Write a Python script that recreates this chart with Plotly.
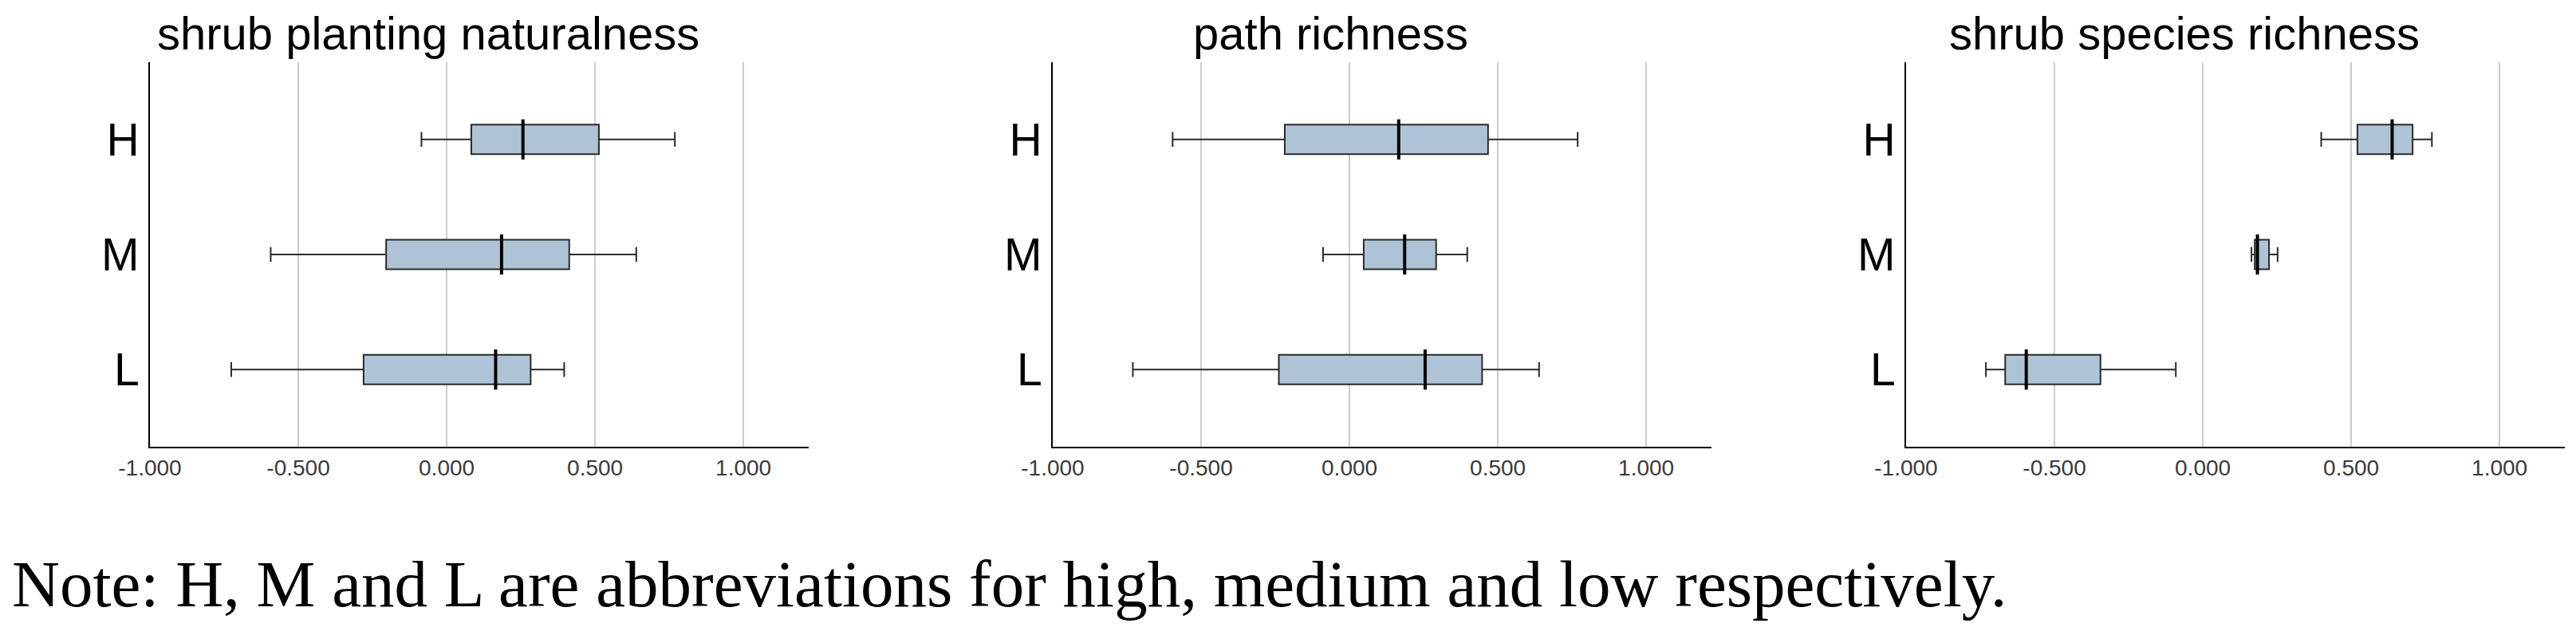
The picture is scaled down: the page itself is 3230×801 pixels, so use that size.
import plotly.graph_objects as go

# categories and panels
levels = ["L", "M", "H"]
titles = ["shrub planting naturalness", "path richness", "shrub species richness"]
x_ticks = [-1.0, -0.5, 0.0, 0.5, 1.0]
x_tick_labels = ["-1.000", "-0.500", "0.000", "0.500", "1.000"]
note = "Note: H, M and L are abbreviations for high, medium and low respectively."

# box stats per panel, ordered L, M, H
naturalness_low = [-0.726, -0.593, -0.085]
naturalness_q1 = [-0.280, -0.204, 0.083]
naturalness_med = [0.165, 0.185, 0.257]
naturalness_q3 = [0.283, 0.413, 0.513]
naturalness_high = [0.396, 0.639, 0.769]

path_low = [-0.730, -0.089, -0.596]
path_q1 = [-0.238, 0.048, -0.218]
path_med = [0.255, 0.186, 0.166]
path_q3 = [0.447, 0.292, 0.467]
path_high = [0.639, 0.397, 0.769]

species_low = [-0.731, 0.164, 0.399]
species_q1 = [-0.666, 0.175, 0.521]
species_med = [-0.595, 0.184, 0.638]
species_q3 = [-0.345, 0.223, 0.707]
species_high = [-0.091, 0.252, 0.772]

panels = [
    (naturalness_low, naturalness_q1, naturalness_med, naturalness_q3, naturalness_high),
    (path_low, path_q1, path_med, path_q3, path_high),
    (species_low, species_q1, species_med, species_q3, species_high),
]

# page body has an 8px margin, so lay out in page pixels minus that
OFF = 8
W, H = 3230 - 2 * OFF, 801 - 2 * OFF
x_spans = [(188, 1014), (1320, 2146), (2390, 3216)]
title_x = [537, 1668, 2739]
y_top, y_bot = 78, 560


def px(v):
    return (v - OFF) / W


def py(v):
    return 1 - (v - OFF) / H


fig = go.Figure()
for i, (lo, q1, med, q3, hi) in enumerate(panels):
    sfx = "" if i == 0 else str(i + 1)
    fig.add_trace(go.Box(
        y=levels, lowerfence=lo, q1=q1, median=med, q3=q3, upperfence=hi,
        orientation="h", xaxis="x" + sfx, yaxis="y" + sfx,
        fillcolor="#afc3d7", line=dict(color="#2a2a2a", width=2),
        width=0.256, whiskerwidth=0.5, boxpoints=False, hoverinfo="skip",
        showlegend=False,
    ))
    # heavier median stroke
    fig.add_trace(go.Scatter(
        x=med, y=levels, mode="markers", xaxis="x" + sfx, yaxis="y" + sfx,
        marker=dict(symbol="line-ns", size=36, line=dict(color="black", width=4)),
        hoverinfo="skip", showlegend=False,
    ))
    x0, x1 = x_spans[i]
    fig.layout["xaxis" + sfx] = dict(
        domain=[px(x0), px(x1)], anchor="y" + sfx, range=[-1.0, 1.22],
        tickvals=x_ticks, ticktext=x_tick_labels, automargin=False,
        tickfont=dict(family="Liberation Sans, Arial", size=28, color="#3a3a3a"),
        showgrid=True, gridcolor="#cccccc", gridwidth=1.5, zeroline=False,
        showline=True, linecolor="black", linewidth=2, ticks="", fixedrange=True,
    )
    fig.layout["yaxis" + sfx] = dict(
        domain=[py(y_bot), py(y_top)], anchor="x" + sfx,
        type="category", categoryorder="array", categoryarray=levels,
        range=[-0.671, 2.671], automargin=False,
        tickfont=dict(family="Liberation Sans, Arial", size=57, color="black"),
        showgrid=False, zeroline=False, showline=True, linecolor="black",
        linewidth=2, ticks="", ticklabelstandoff=0, fixedrange=True,
    )
    fig.add_annotation(
        text=titles[i], xref="paper", yref="paper", x=px(title_x[i]), y=py(42),
        xanchor="center", yanchor="middle", showarrow=False,
        font=dict(family="Liberation Sans, Arial", size=58, color="black"),
    )

fig.add_annotation(
    text=note, xref="paper", yref="paper", x=px(13), y=py(732),
    xanchor="left", yanchor="middle", showarrow=False,
    font=dict(family="Liberation Serif, Times New Roman", size=83, color="black"),
)

fig.update_layout(
    width=W, height=H, margin=dict(l=0, r=0, t=0, b=0),
    paper_bgcolor="white", plot_bgcolor="white",
)

fig.write_html("out.html")
